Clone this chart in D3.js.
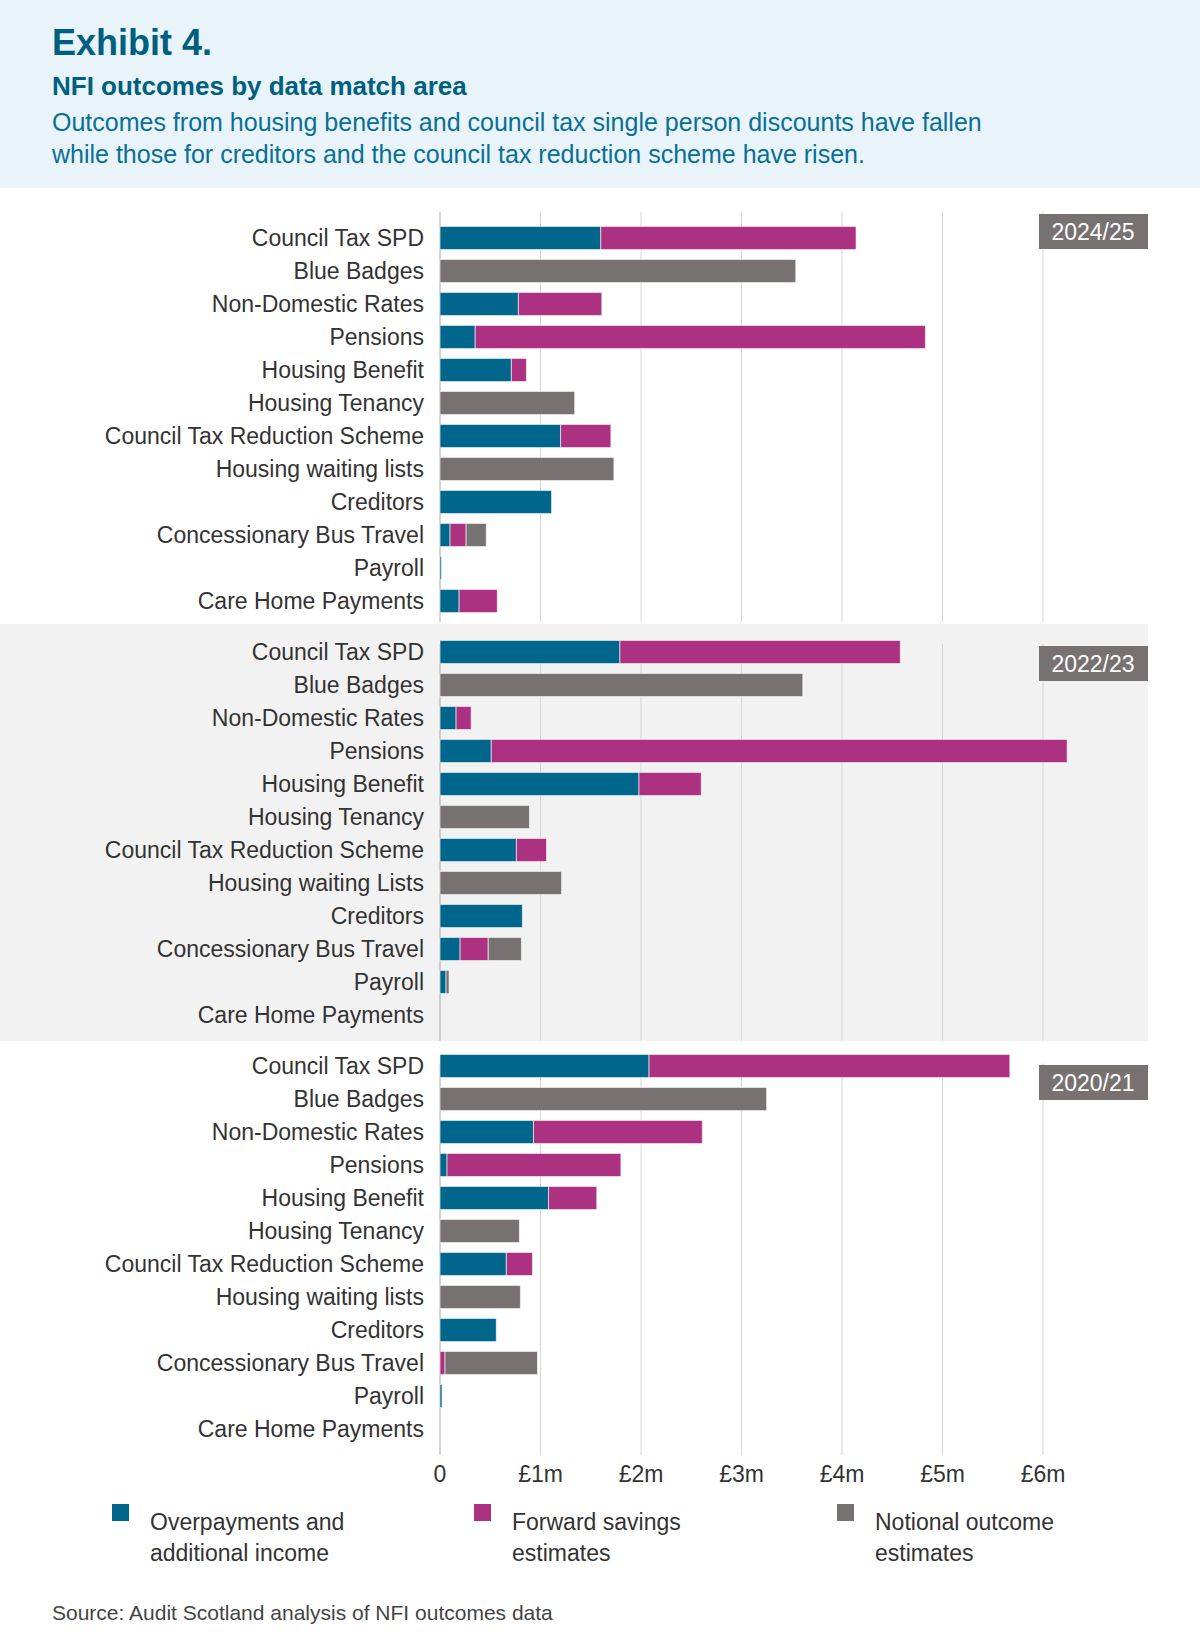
<!DOCTYPE html>
<html><head><meta charset="utf-8">
<script src="https://cdn.jsdelivr.net/npm/d3@7"></script>
<style>body{margin:0;background:#fff}svg{display:block}</style>
</head><body><svg id="c" width="1200" height="1640"></svg>
<script>
const cats2425 = ["Council Tax SPD","Blue Badges","Non-Domestic Rates","Pensions","Housing Benefit","Housing Tenancy","Council Tax Reduction Scheme","Housing waiting lists","Creditors","Concessionary Bus Travel","Payroll","Care Home Payments"];
const cats2223 = ["Council Tax SPD","Blue Badges","Non-Domestic Rates","Pensions","Housing Benefit","Housing Tenancy","Council Tax Reduction Scheme","Housing waiting Lists","Creditors","Concessionary Bus Travel","Payroll","Care Home Payments"];
const cats2021 = cats2425;
const years = ["2024/25","2022/23","2020/21"];
const seriesNames = ["Overpayments and additional income","Forward savings estimates","Notional outcome estimates"];
// values in £m
const over2425 = [1.60,0,0.78,0.35,0.71,0,1.20,0,1.11,0.10,0.01,0.19];
const fwd2425  = [2.54,0,0.83,4.48,0.15,0,0.50,0,0,0.16,0,0.38];
const not2425  = [0,3.54,0,0,0,1.34,0,1.73,0,0.20,0,0];
const over2223 = [1.79,0,0.16,0.51,1.98,0,0.76,0,0.82,0.20,0.06,0];
const fwd2223  = [2.79,0,0.15,5.73,0.62,0,0.30,0,0,0.28,0,0];
const not2223  = [0,3.61,0,0,0,0.89,0,1.21,0,0.33,0.03,0];
const over2021 = [2.08,0,0.93,0.07,1.08,0,0.66,0,0.56,0,0.02,0];
const fwd2021  = [3.59,0,1.68,1.73,0.48,0,0.26,0,0,0.05,0,0];
const not2021  = [0,3.25,0,0,0,0.79,0,0.80,0,0.92,0,0];
const ticks = [0,1,2,3,4,5,6];
const tickLabels = ["0","£1m","£2m","£3m","£4m","£5m","£6m"];
const colors = ["#00668c","#ad3181","#787171"];

const panels = [
 {year:years[0],cats:cats2425,s:[over2425,fwd2425,not2425],top:192,bottom:622,bg:"#ffffff"},
 {year:years[1],cats:cats2223,s:[over2223,fwd2223,not2223],top:624,bottom:1041,bg:"#f2f2f2"},
 {year:years[2],cats:cats2021,s:[over2021,fwd2021,not2021],top:1043,bottom:1455,bg:"#ffffff"}
];
const firstRow=[238,652,1066];
const font="'Liberation Sans', Arial, sans-serif";
const svg=d3.select("#c");
const x=d3.scaleLinear().domain([0,6]).range([440,1043]);

svg.append("rect").attr("x",0).attr("y",0).attr("width",1200).attr("height",188).attr("fill","#e8f4fa");
svg.append("text").attr("x",52).attr("y",55).attr("font-family",font).attr("font-weight","bold").attr("font-size",36).attr("fill","#005f7f").text("Exhibit 4.");
svg.append("text").attr("x",52).attr("y",95).attr("font-family",font).attr("font-weight","bold").attr("font-size",26).attr("fill","#005f7f").text("NFI outcomes by data match area");
svg.append("text").attr("x",52).attr("y",131).attr("font-family",font).attr("font-size",25).attr("fill","#0a6f96").text("Outcomes from housing benefits and council tax single person discounts have fallen");
svg.append("text").attr("x",52).attr("y",163).attr("font-family",font).attr("font-size",25).attr("fill","#0a6f96").text("while those for creditors and the council tax reduction scheme have risen.");

panels.forEach((p,pi)=>{
  const g=svg.append("g");
  g.append("rect").attr("x",0).attr("y",p.top).attr("width",1148).attr("height",p.bottom-p.top).attr("fill",p.bg);
  g.selectAll("line.grid").data(ticks).join("line").attr("x1",d=>x(d)).attr("x2",d=>x(d))
    .attr("y1",p.top+20).attr("y2",p.bottom).attr("stroke",d=>d===0?"#aaa":"#d6d6d6").attr("stroke-width",1);
  const y=d3.scaleBand().domain(p.cats).range([firstRow[pi]-16.5,firstRow[pi]-16.5+33*12]).paddingInner(0.3).paddingOuter(0.15);
  const rows=p.cats.map((c,i)=>{let acc=0;return p.s.map((arr,k)=>{const r={c,k,x0:acc,x1:acc+arr[i]};acc+=arr[i];return r;});}).flat().filter(r=>r.x1>r.x0);
  g.selectAll("rect.bar").data(rows).join("rect").attr("x",d=>x(d.x0)).attr("width",d=>Math.max(1.5,x(d.x1)-x(d.x0)))
    .attr("y",d=>y(d.c)).attr("height",y.bandwidth()).attr("fill",d=>colors[d.k]).attr("stroke","rgba(255,255,255,0.6)").attr("stroke-width",1);
  g.selectAll("text.lab").data(p.cats).join("text").attr("x",424).attr("y",d=>y(d)+y.bandwidth()/2).attr("dy","0.35em")
    .attr("text-anchor","end").attr("font-family",font).attr("font-size",23).attr("fill","#333").text(d=>d);
  g.append("rect").attr("x",1039).attr("y",p.top+22).attr("width",109).attr("height",35).attr("fill","#777171");
  g.append("text").attr("x",1093).attr("y",p.top+40).attr("dy","0.35em").attr("text-anchor","middle").attr("font-family",font).attr("font-size",23).attr("fill","#fff").text(p.year);
});

svg.selectAll("text.tick").data(ticks).join("text").attr("x",d=>x(d)).attr("y",1482).attr("text-anchor","middle")
  .attr("font-family",font).attr("font-size",23).attr("fill","#333").text((d,i)=>tickLabels[i]);

const legX=[112,474,837];
const legLines=[["Overpayments and","additional income"],["Forward savings","estimates"],["Notional outcome","estimates"]];
seriesNames.forEach((n,i)=>{
  svg.append("rect").attr("x",legX[i]).attr("y",1504).attr("width",17).attr("height",17).attr("fill",colors[i]);
  const t=svg.append("text").attr("x",legX[i]+38).attr("y",1530).attr("font-family",font).attr("font-size",23).attr("fill","#333");
  legLines[i].forEach((l,j)=>t.append("tspan").attr("x",legX[i]+38).attr("dy",j?31:0).text(l));
});
svg.append("text").attr("x",52).attr("y",1620).attr("font-family",font).attr("font-size",21).attr("fill","#444").text("Source: Audit Scotland analysis of NFI outcomes data");
</script></body></html>
